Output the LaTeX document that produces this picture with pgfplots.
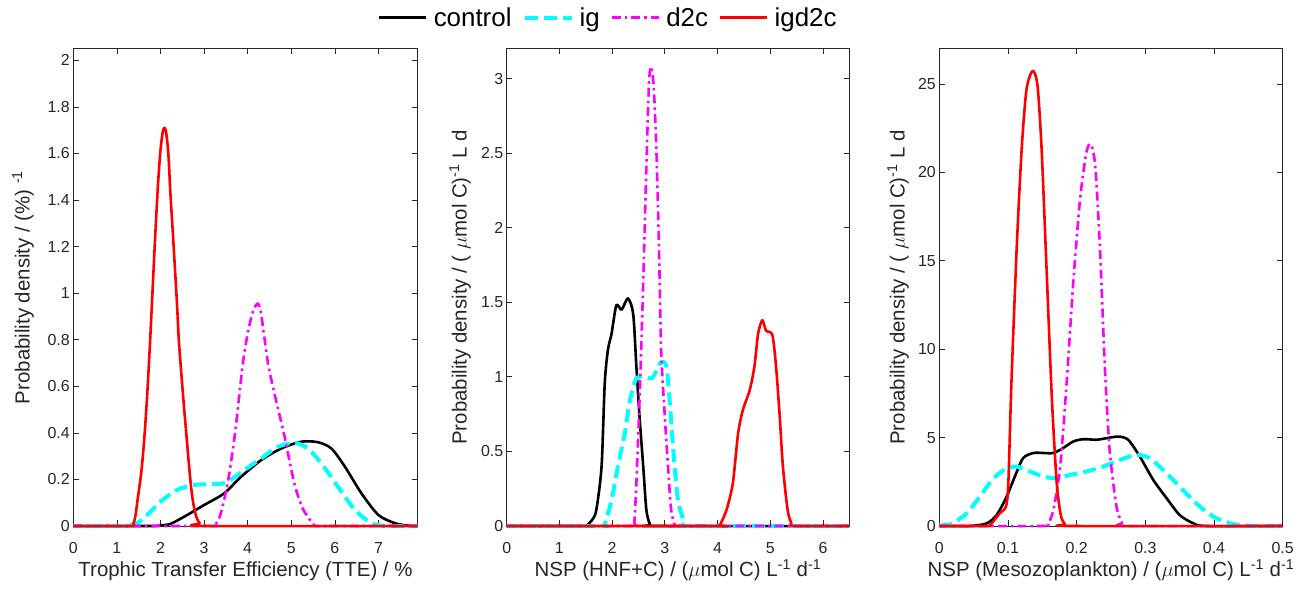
\documentclass[border=0pt]{standalone}
\usepackage{fontspec}
\setmainfont{Liberation Sans}
\usepackage{pgfplots}
\pgfplotsset{compat=1.18}
\definecolor{axgray}{gray}{0.15}
\definecolor{mcyan}{rgb}{0,1,1}
\definecolor{mmag}{rgb}{1,0,1}
\definecolor{mred}{rgb}{1,0,0}
\pgfplotsset{
 myax/.style={
  scale only axis, height=477.3bp, clip=false,
  axis line style={draw=axgray, line width=0.7bp},
  major tick style={draw=axgray, line width=0.7bp},
  major tick length=5.5bp,
  tick align=inside,
  ymin=0,
  scaled ticks=false,
  tick label style={font=\fontsize{16}{19}\selectfont, text=axgray},
  /pgf/number format/assume math mode=true,
  xticklabel style={anchor=base, yshift=-27bp},
  label style={font=\fontsize{20.5}{24}\selectfont, text=axgray},
  xlabel style={at={(axis description cs:0.5,-0.1067)}, anchor=base},
  every axis plot/.append style={line join=round, smooth, tension=0.45},
 },
 ctl/.style={black, line width=2.6bp},
 ig/.style={mcyan, line width=4bp, dash pattern=on 13bp off 6bp},
 dtc/.style={mmag, line width=2.6bp, dash pattern=on 9bp off 4bp on 2.5bp off 4bp},
 igd/.style={mred, line width=2.6bp},
}
\begin{document}
\begin{tikzpicture}
\path[use as bounding box] (0,0) rectangle (1309bp,594bp);
% ---------- Panel 1
\begin{axis}[myax, at={(73.3bp,68bp)}, anchor=south west, width=344.4bp,
  xmin=0, xmax=7.9, ymax=2.05,
  xtick={0,1,2,3,4,5,6,7},
  ytick={0,0.2,0.4,0.6,0.8,1,1.2,1.4,1.6,1.8,2},
  xlabel={Trophic Transfer Efficiency (TTE) / \%},
  ylabel={Probability density / (\%) \textsuperscript{-1}},
  ylabel style={at={(axis description cs:-0.146,0.5)}, anchor=center},
]
\addplot[ctl] coordinates {(0,0) (1.8,0) (2.0,0.003) (2.23,0.009) (2.61,0.047) (3.0,0.09) (3.46,0.14) (3.84,0.21) (4.31,0.283) (4.77,0.333) (5.23,0.362) (5.61,0.36) (5.92,0.333) (6.23,0.255) (6.61,0.14) (7.0,0.047) (7.38,0.012) (7.7,0.001) (7.9,0)};
\addplot[ig] coordinates {(0,0) (1.0,0) (1.23,0.002) (1.45,0.012) (1.62,0.033) (2.0,0.104) (2.38,0.155) (2.77,0.176) (3.15,0.18) (3.5,0.186) (3.92,0.24) (4.31,0.29) (4.69,0.34) (5.08,0.357) (5.38,0.333) (5.69,0.269) (6.07,0.169) (6.46,0.069) (6.84,0.012) (7.2,0) (7.9,0)};
\addplot[dtc] coordinates {(0,0) (3.1,0) (3.23,0.003) (3.36,0.04) (3.54,0.183) (3.71,0.398) (3.88,0.684) (4.0,0.827) (4.12,0.92) (4.23,0.956) (4.30,0.92) (4.37,0.827) (4.48,0.684) (4.65,0.54) (4.83,0.398) (5.07,0.183) (5.25,0.08) (5.38,0.04) (5.53,0.003) (5.7,0) (7.9,0)};
\addplot[igd] coordinates {(0,0) (1.30,0) (1.38,0.01) (1.43,0.05) (1.48,0.12) (1.55,0.215) (1.60,0.31) (1.65,0.431) (1.70,0.579) (1.75,0.751) (1.80,0.94) (1.85,1.135) (1.90,1.322) (1.95,1.488) (2.00,1.614) (2.05,1.691) (2.09,1.71) (2.13,1.69) (2.18,1.60) (2.23,1.42) (2.28,1.27) (2.33,1.11) (2.38,0.95) (2.42,0.80) (2.48,0.65) (2.54,0.51) (2.60,0.38) (2.65,0.27) (2.70,0.17) (2.75,0.10) (2.82,0.04) (2.90,0.012) (3.0,0) (7.9,0)};
\end{axis}
% ---------- Panel 2
\begin{axis}[myax, at={(506.7bp,68bp)}, anchor=south west, width=342.6bp,
  xmin=0, xmax=6.5, ymax=3.2,
  xtick={0,1,2,3,4,5,6},
  ytick={0,0.5,1,1.5,2,2.5,3},
  xlabel={NSP (HNF+C) / ($\mu$mol C) L\textsuperscript{-1} d\textsuperscript{-1}},
  ylabel={Probability density / ( $\mu$mol C)\textsuperscript{-1} L d},
  ylabel style={at={(axis description cs:-0.136,0.5)}, anchor=center},
  legend style={draw=none, fill=none, at={(-0.3757,1.065)}, anchor=west,
    font=\fontsize{26}{29}\selectfont, text=black, inner sep=0pt,
    /tikz/every even column/.append style={column sep=9bp}},
  legend columns=4,
  legend image code/.code={\draw[#1,sharp plot] (0bp,0bp) -- (47bp,0bp); \path (51bp,0bp);},
]
\addplot[ctl] coordinates {(0,0) (1.45,0) (1.52,0.005) (1.62,0.04) (1.70,0.107) (1.80,0.40) (1.86,0.956) (1.92,1.18) (1.99,1.29) (2.08,1.48) (2.18,1.45) (2.30,1.526) (2.40,1.42) (2.46,1.07) (2.52,0.733) (2.59,0.40) (2.65,0.107) (2.72,0.01) (2.8,0) (6.5,0)};
\addlegendentry{control}
\addplot[ig] coordinates {(0,0) (1.8,0) (1.86,0.01) (1.99,0.174) (2.11,0.40) (2.24,0.62) (2.34,0.845) (2.46,0.99) (2.59,1.0) (2.75,0.99) (2.84,1.04) (2.93,1.10) (3.03,1.07) (3.09,0.845) (3.16,0.51) (3.25,0.174) (3.38,0.02) (3.5,0) (6.5,0)};
\addlegendentry{ig}
\addplot[dtc] coordinates {(0,0) (2.38,0) (2.42,0.02) (2.46,0.286) (2.52,0.845) (2.59,1.63) (2.65,2.41) (2.70,2.97) (2.74,3.08) (2.79,2.94) (2.84,2.52) (2.89,1.85) (2.93,1.18) (3.0,0.733) (3.06,0.40) (3.12,0.107) (3.19,0.005) (3.25,0) (6.5,0)};
\addlegendentry{d2c}
\addplot[igd] coordinates {(0,0) (3.95,0) (4.04,0.005) (4.17,0.107) (4.29,0.286) (4.39,0.62) (4.48,0.777) (4.61,0.91) (4.70,1.07) (4.77,1.29) (4.85,1.38) (4.92,1.31) (5.04,1.28) (5.11,1.07) (5.18,0.733) (5.24,0.40) (5.33,0.107) (5.40,0.02) (5.46,0) (6.5,0)};
\addlegendentry{igd2c}
\end{axis}
% ---------- Panel 3
\begin{axis}[myax, at={(939.3bp,68bp)}, anchor=south west, width=343.4bp,
  xmin=0, xmax=0.5, ymax=27,
  xtick={0,0.1,0.2,0.3,0.4,0.5},
  ytick={0,5,10,15,20,25},
  xlabel={NSP (Mesozoplankton) / ($\mu$mol C) L\textsuperscript{-1} d\textsuperscript{-1}},
  ylabel={Probability density / ( $\mu$mol C)\textsuperscript{-1} L d},
  ylabel style={at={(axis description cs:-0.120,0.5)}, anchor=center},
]
\addplot[ctl] coordinates {(0,0) (0.045,0) (0.069,0.15) (0.0835,0.62) (0.098,1.66) (0.110,2.8) (0.122,3.84) (0.137,4.13) (0.151,4.13) (0.166,4.13) (0.180,4.4) (0.195,4.78) (0.2097,4.91) (0.229,4.88) (0.244,4.97) (0.2606,5.06) (0.275,4.88) (0.292,3.93) (0.3115,2.61) (0.331,1.57) (0.350,0.62) (0.370,0.15) (0.389,0) (0.5,0)};
\addplot[ig] coordinates {(0,0.03) (0.010,0.06) (0.020,0.15) (0.040,0.72) (0.059,1.66) (0.079,2.7) (0.096,3.21) (0.1126,3.36) (0.132,3.08) (0.151,2.8) (0.171,2.7) (0.190,2.89) (0.214,3.08) (0.2388,3.36) (0.263,3.74) (0.287,4.03) (0.306,3.84) (0.326,3.17) (0.350,2.23) (0.374,1.28) (0.399,0.53) (0.423,0.15) (0.447,0.02) (0.47,0) (0.5,0)};
\addplot[dtc] coordinates {(0,0) (0.15,0) (0.158,0.1) (0.166,0.9) (0.176,3.36) (0.1854,8.09) (0.195,13.75) (0.205,18.5) (0.214,21.1) (0.2204,21.6) (0.227,20.4) (0.234,15.65) (0.241,9.03) (0.248,4.3) (0.258,1.1) (0.266,0.2) (0.273,0) (0.5,0)};
\addplot[igd] coordinates {(0,0) (0.07,0) (0.074,0.05) (0.088,0.72) (0.097,1.1) (0.1005,2.42) (0.105,8.09) (0.1126,15.65) (0.1199,21.3) (0.127,24.7) (0.136,25.75) (0.143,24.9) (0.149,21.3) (0.156,14.7) (0.164,7.14) (0.171,2.42) (0.177,0.6) (0.183,0.1) (0.19,0) (0.5,0)};
\end{axis}
\end{tikzpicture}
\end{document}
